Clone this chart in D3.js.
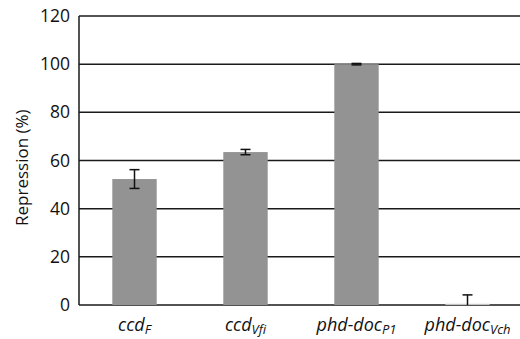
<!DOCTYPE html>
<html>
<head>
<meta charset="utf-8">
<script src="https://cdn.jsdelivr.net/npm/d3@7"></script>
<style>
  body { margin: 0; background: #fff; }
  svg { display: block; font-family: "Open Sans", "Noto Sans", sans-serif; }
</style>
</head>
<body>
<div id="chart"></div>
<script>
// chart data
var categories = ["ccd", "ccd", "phd-doc", "phd-doc"];
var subscripts = ["F", "Vfi", "P1", "Vch"];
var values = [52.3, 63.5, 100, 0.5];
var errors = [3.9, 1.1, 0.3, 3.7];
var yTicks = [0, 20, 40, 60, 80, 100, 120];

var width = 520, height = 339;
var margin = {top: 16, right: 0, bottom: 34, left: 79};

var svg = d3.select("#chart")
  .append("svg")
  .attr("width", width)
  .attr("height", height);

var x = d3.scaleBand()
  .domain(d3.range(categories.length))
  .range([margin.left, margin.left + 444])
  .paddingInner(0.6)
  .paddingOuter(0.3);

var y = d3.scaleLinear()
  .domain([0, 120])
  .range([height - margin.bottom, margin.top]);

// gridlines
svg.append("g")
  .selectAll("line")
  .data(yTicks)
  .join("line")
  .attr("x1", margin.left)
  .attr("x2", width)
  .attr("y1", d => y(d))
  .attr("y2", d => y(d))
  .attr("stroke", "#1a1a1a")
  .attr("stroke-width", 1.5);

// y axis line
svg.append("line")
  .attr("x1", margin.left)
  .attr("x2", margin.left)
  .attr("y1", y(120))
  .attr("y2", y(0))
  .attr("stroke", "#1a1a1a")
  .attr("stroke-width", 1.5);

// y tick labels
svg.append("g")
  .selectAll("text")
  .data(yTicks)
  .join("text")
  .attr("x", 70)
  .attr("y", d => y(d))
  .attr("dy", "0.35em")
  .attr("text-anchor", "end")
  .attr("font-size", 17.5)
  .attr("fill", "#111")
  .text(d => d);

// bars
svg.append("g")
  .selectAll("rect")
  .data(values)
  .join("rect")
  .attr("x", (d, i) => x(i))
  .attr("y", d => y(d))
  .attr("width", x.bandwidth())
  .attr("height", d => y(0) - y(d))
  .attr("fill", (d, i) => i === 3 ? "#c4c4c4" : "#939393");

// error bars (clipped at the axis)
var eb = svg.append("g").attr("stroke", "#111").attr("stroke-width", 1.5);
values.forEach(function(v, i) {
  var cx = x(i) + x.bandwidth() / 2;
  var hi = y(Math.min(120, v + errors[i]));
  var lo = y(Math.max(0, v - errors[i]));
  eb.append("line").attr("x1", cx).attr("x2", cx).attr("y1", hi).attr("y2", lo);
  eb.append("line").attr("x1", cx - 5).attr("x2", cx + 5).attr("y1", hi).attr("y2", hi);
  if (v - errors[i] > 0) {
    eb.append("line").attr("x1", cx - 5).attr("x2", cx + 5).attr("y1", lo).attr("y2", lo);
  }
});

// category labels
var lab = svg.append("g")
  .selectAll("text")
  .data(categories)
  .join("text")
  .attr("x", (d, i) => x(i) + x.bandwidth() / 2)
  .attr("y", 331)
  .attr("text-anchor", "middle")
  .attr("font-size", 18)
  .attr("font-style", "italic")
  .attr("fill", "#111");
lab.append("tspan").text(d => d);
lab.append("tspan")
  .attr("font-size", 13)
  .attr("dy", 3)
  .text((d, i) => subscripts[i]);

// y title
svg.append("text")
  .attr("transform", "translate(22," + y(57) + ") rotate(-90)")
  .attr("text-anchor", "middle")
  .attr("dy", "0.35em")
  .attr("font-size", 17)
  .attr("fill", "#111")
  .text("Repression (%)");
</script>
</body>
</html>
